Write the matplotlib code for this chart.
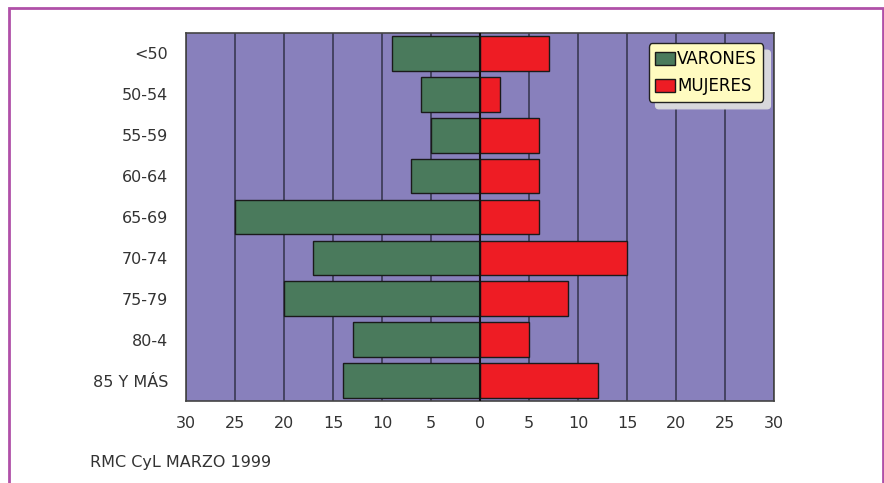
import numpy as np
import matplotlib.pyplot as plt
from matplotlib.patches import Rectangle

groups = ['<50', '50-54', '55-59', '60-64', '65-69', '70-74', '75-79', '80-4', '85 Y MÁS']
varones = [9, 6, 5, 7, 25, 17, 20, 13, 14]
mujeres = [7, 2, 6, 6, 6, 15, 9, 5, 12]
ticks = [-30, -25, -20, -15, -10, -5, 0, 5, 10, 15, 20, 25, 30]

fig = plt.figure(figsize=(8.84, 4.83), dpi=100)
ax = fig.add_axes([186 / 884, 1 - 401 / 483, 588 / 884, 368 / 483])
ax.set_facecolor('#8880bc')

y = np.arange(len(groups))
ax.barh(y, -np.array(varones), height=0.85, color='#4a7a5c', edgecolor='#1a1a1a',
        linewidth=1, label='VARONES', zorder=3)
ax.barh(y, mujeres, height=0.85, color='#ee1c24', edgecolor='#1a1a1a',
        linewidth=1, label='MUJERES', zorder=3)
ax.axvline(0, color='#111111', linewidth=1.5, zorder=4)

ax.set_xlim(-30, 30)
ax.set_ylim(len(groups) - 0.5, -0.5)
ax.set_xticks(ticks)
ax.set_xticklabels([str(abs(t)) for t in ticks])
ax.set_yticks(y)
ax.set_yticklabels(groups)
ax.tick_params(length=0, labelsize=11.5, colors='#333333', pad=11)
ax.tick_params(axis='y', pad=13)
ax.grid(axis='x', color='#33334a', linewidth=1.1, zorder=1)
for s in ax.spines.values():
    s.set_color('#444444')
    s.set_linewidth(1.2)

leg = ax.legend(loc='upper right', bbox_to_anchor=(0.982, 0.972), fancybox=True,
                shadow={'color': '#d8d8dc', 'alpha': 1, 'ox': 5, 'oy': -5},
                facecolor='#fffbc0', edgecolor='#222222', framealpha=1, fontsize=12,
                handlelength=1.2, handleheight=0.8, handletextpad=0.1,
                borderpad=0.4, labelspacing=0.55, borderaxespad=0)
leg.get_frame().set_linewidth(1)

fig.text(90 / 884, 1 - 463 / 483, 'RMC CyL MARZO 1999', fontsize=11.5,
         color='#333333', va='center')

fig.patches.append(Rectangle((9 / 884, -0.1), 874 / 884, 1.1 - 8 / 483,
                             transform=fig.transFigure, fill=False,
                             edgecolor='#b050a8', linewidth=2))

fig.savefig('out.png', dpi=100)
